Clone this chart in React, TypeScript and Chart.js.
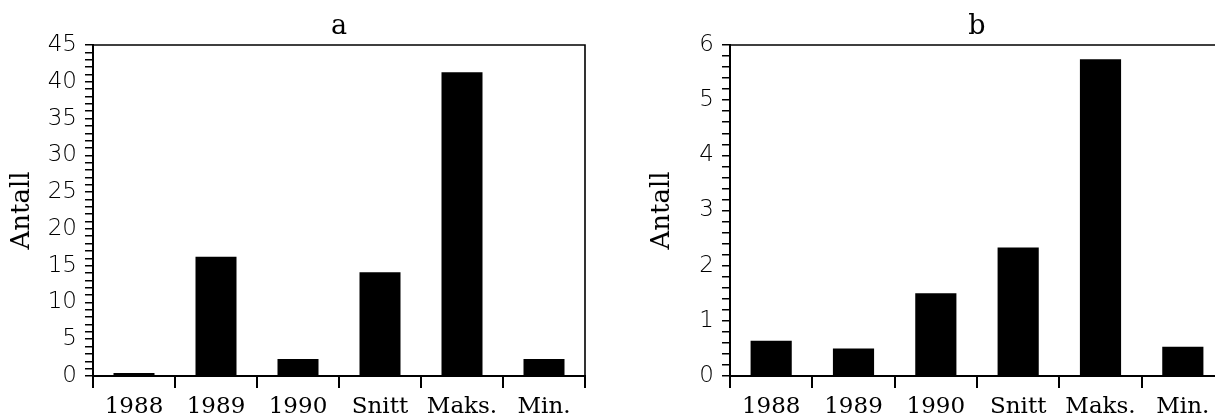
import React, { useEffect, useRef } from "react";
import { Chart, registerables } from "chart.js";

Chart.register(...registerables);

const categories = ["1988", "1989", "1990", "Snitt", "Maks.", "Min."];
const valuesA = [0.4, 16.2, 2.3, 14.1, 41.3, 2.3];
const valuesB = [0.64, 0.5, 1.5, 2.33, 5.74, 0.53];
const titleA = "a";
const titleB = "b";
const yTitle = "Antall";
const yMaxA = 45;
const yMinorA = 1;
const yMajorA = 5;
const yMaxB = 6;
const yMinorB = 0.2;
const yMajorB = 1;

const SERIF = "'DejaVu Serif', 'Liberation Serif', serif";
const SANS = "'DejaVu Sans', 'Liberation Sans', sans-serif";

const framePlugin = {
  id: "frameAndTitle",
  afterDraw(chart: any) {
    const { ctx, chartArea } = chart;
    const opts = chart.options.plugins.frameAndTitle || {};
    ctx.save();
    ctx.strokeStyle = "#000";
    ctx.lineWidth = 1.6;
    ctx.beginPath();
    ctx.moveTo(chartArea.left, chartArea.top);
    ctx.lineTo(chartArea.right, chartArea.top);
    ctx.lineTo(chartArea.right, chartArea.bottom);
    ctx.stroke();
    if (opts.text) {
      ctx.fillStyle = "#000";
      ctx.font = `27px ${SERIF}`;
      ctx.textAlign = "center";
      ctx.textBaseline = "alphabetic";
      ctx.fillText(opts.text, (chartArea.left + chartArea.right) / 2, opts.baseline);
    }
    ctx.restore();
  },
};

function makeConfig(
  values: number[],
  yMax: number,
  minor: number,
  major: number,
  title: string,
  yWidth: number,
  titlePad: number,
  rightPad: number
): any {
  return {
    type: "bar",
    data: {
      labels: categories,
      datasets: [
        {
          data: values,
          backgroundColor: "#000",
          borderWidth: 0,
          barPercentage: 0.5,
          categoryPercentage: 1.0,
        },
      ],
    },
    plugins: [framePlugin],
    options: {
      animation: false,
      responsive: false,
      layout: { padding: { top: 45, right: rightPad, left: 0, bottom: 0 } },
      plugins: {
        legend: { display: false },
        title: { display: false },
        tooltip: { enabled: false },
        frameAndTitle: { text: title, baseline: 34 },
      },
      scales: {
        x: {
          offset: true,
          afterFit: (s: any) => {
            s.height = 38;
          },
          grid: {
            offset: true,
            drawOnChartArea: false,
            drawTicks: true,
            tickLength: 12,
            lineWidth: 2,
            color: "#000",
          },
          border: { display: true, color: "#000", width: 2 },
          ticks: {
            color: "#000",
            padding: 5,
            maxRotation: 0,
            autoSkip: false,
            font: { family: SERIF, size: 23 },
          },
        },
        y: {
          min: 0,
          max: yMax,
          afterFit: (s: any) => {
            s.width = yWidth;
          },
          grid: {
            drawOnChartArea: false,
            drawTicks: true,
            tickLength: 8,
            lineWidth: 1.5,
            color: "#000",
          },
          border: { display: true, color: "#000", width: 2 },
          title: {
            display: true,
            text: yTitle,
            color: "#000",
            font: { family: SERIF, size: 26 },
            padding: { top: 7, bottom: 0 },
          },
          ticks: {
            stepSize: minor,
            autoSkip: false,
            color: "#000",
            padding: 8,
            font: { family: SANS, size: 23, weight: "200" },
            callback: (v: any) => {
              const r = Math.round(v / major);
              return Math.abs(v / major - r) < 1e-6 ? String(r * major) : "";
            },
          },
        },
      },
    },
  };
}

function ChartCanvas(props: { config: any; left: number; width: number }) {
  const ref = useRef<HTMLCanvasElement | null>(null);
  useEffect(() => {
    if (!ref.current) return;
    const chart = new Chart(ref.current, props.config);
    return () => chart.destroy();
  }, []);
  return (
    <canvas
      ref={ref}
      width={props.width}
      height={414}
      style={{ position: "absolute", left: props.left, top: 0, width: props.width, height: 414 }}
    />
  );
}

export default function App() {
  const cfgA = makeConfig(valuesA, yMaxA, yMinorA, yMajorA, titleA, 93, 7, 15);
  const cfgB = makeConfig(valuesB, yMaxB, yMinorB, yMajorB, titleB, 120, 37, 16);
  cfgA.options.scales.y.title.padding.top = 7;
  cfgB.options.scales.y.title.padding.top = 37;
  return (
    <div
      style={{
        position: "fixed",
        left: 0,
        top: 0,
        width: 1215,
        height: 414,
        overflow: "hidden",
        background: "#fff",
      }}
    >
      <ChartCanvas config={cfgA} left={0} width={600} />
      <ChartCanvas config={cfgB} left={610} width={630} />
    </div>
  );
}
